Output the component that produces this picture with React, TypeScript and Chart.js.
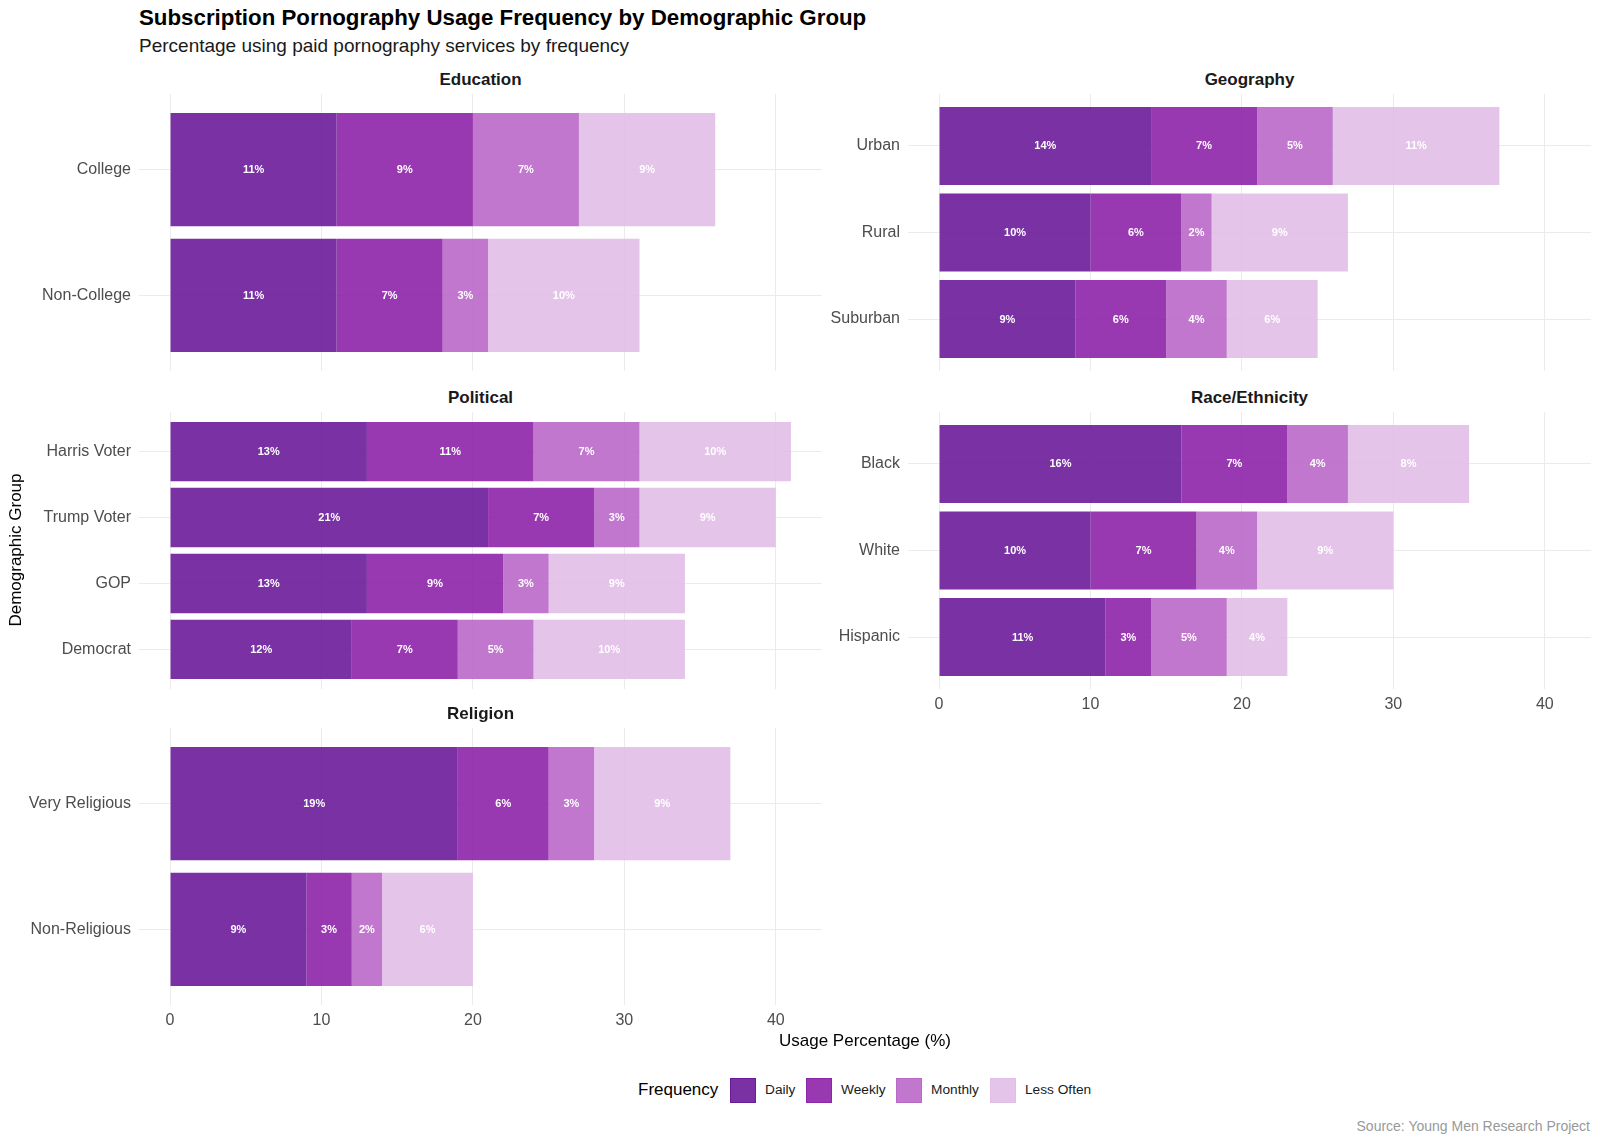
import React, { useEffect, useRef } from 'react'
import { Chart, registerables } from 'chart.js'

Chart.register(...registerables)

const FONT = '"Liberation Sans", Arial, Helvetica, sans-serif'
Chart.defaults.font.family = FONT

// ---- data ----
const frequencies = ['Daily', 'Weekly', 'Monthly', 'Less Often']

const educationGroups = ['College', 'Non-College']
const educationDaily = [11, 11]
const educationWeekly = [9, 7]
const educationMonthly = [7, 3]
const educationLessOften = [9, 10]

const geographyGroups = ['Urban', 'Rural', 'Suburban']
const geographyDaily = [14, 10, 9]
const geographyWeekly = [7, 6, 6]
const geographyMonthly = [5, 2, 4]
const geographyLessOften = [11, 9, 6]

const politicalGroups = ['Harris Voter', 'Trump Voter', 'GOP', 'Democrat']
const politicalDaily = [13, 21, 13, 12]
const politicalWeekly = [11, 7, 9, 7]
const politicalMonthly = [7, 3, 3, 5]
const politicalLessOften = [10, 9, 9, 10]

const raceGroups = ['Black', 'White', 'Hispanic']
const raceDaily = [16, 10, 11]
const raceWeekly = [7, 7, 3]
const raceMonthly = [4, 4, 5]
const raceLessOften = [8, 9, 4]

const religionGroups = ['Very Religious', 'Non-Religious']
const religionDaily = [19, 9]
const religionWeekly = [6, 3]
const religionMonthly = [3, 2]
const religionLessOften = [9, 6]

const xTicks = [0, 10, 20, 30, 40]

// ---- styling ----
const strokes = ['#6A1B9A', '#8E24AA', '#BA68C8', '#E1BEE7']
const fills = [
  'rgba(106,27,154,0.9)',
  'rgba(142,36,170,0.9)',
  'rgba(186,104,200,0.9)',
  'rgba(225,190,231,0.9)',
]

const panels = [
  { name: 'Education', groups: educationGroups, series: [educationDaily, educationWeekly, educationMonthly, educationLessOften], col: 0, row: 0, showX: false },
  { name: 'Geography', groups: geographyGroups, series: [geographyDaily, geographyWeekly, geographyMonthly, geographyLessOften], col: 1, row: 0, showX: false },
  { name: 'Political', groups: politicalGroups, series: [politicalDaily, politicalWeekly, politicalMonthly, politicalLessOften], col: 0, row: 1, showX: false },
  { name: 'Race/Ethnicity', groups: raceGroups, series: [raceDaily, raceWeekly, raceMonthly, raceLessOften], col: 1, row: 1, showX: true },
  { name: 'Religion', groups: religionGroups, series: [religionDaily, religionWeekly, religionMonthly, religionLessOften], col: 0, row: 2, showX: true },
]

// shared x range, ggplot style 5% expansion
const maxTotal = Math.max(
  ...panels.flatMap(p => p.groups.map((_, i) => p.series.reduce((s, arr) => s + arr[i], 0)))
)
const xMin = -maxTotal * 0.05
const xMax = maxTotal * 1.05

const PANEL_LEFT = [139, 908]
const PANEL_W = 683
const PANEL_TOP = [94, 412, 728]
const PANEL_H = 277
const Y_W = 120
const X_H = 30

const segmentLabels = {
  id: 'segmentLabels',
  afterDatasetsDraw(chart: any) {
    const { ctx } = chart
    ctx.save()
    ctx.font = `bold 11px ${FONT}`
    ctx.fillStyle = '#ffffff'
    ctx.textAlign = 'center'
    ctx.textBaseline = 'middle'
    chart.data.datasets.forEach((ds: any, di: number) => {
      const meta = chart.getDatasetMeta(di)
      meta.data.forEach((el: any, i: number) => {
        const v = ds.data[i].x
        if (!v) return
        const p = el.getCenterPoint()
        ctx.fillText(`${v}%`, p.x, p.y + 0.5)
      })
    })
    ctx.restore()
  },
}

type PanelProps = {
  groups: string[]
  series: number[][]
  showX: boolean
  left: number
  top: number
}

const Panel = ({ groups, series, showX, left, top }: PanelProps) => {
  const canvasRef = useRef<HTMLCanvasElement>(null)

  useEffect(() => {
    if (!canvasRef.current) return
    const n = groups.length

    const chart = new Chart(canvasRef.current, {
      type: 'bar',
      data: {
        datasets: frequencies.map((f, k) => ({
          label: f,
          data: groups.map((_, i) => ({ x: series[k][i], y: i + 1 })),
          backgroundColor: fills[k],
          borderWidth: 0,
          categoryPercentage: 1,
          barPercentage: 0.9,
        })),
      },
      options: {
        indexAxis: 'y',
        animation: false,
        responsive: false,
        maintainAspectRatio: false,
        layout: { padding: 0 },
        plugins: {
          legend: { display: false },
          tooltip: { enabled: false },
        },
        scales: {
          x: {
            type: 'linear',
            stacked: true,
            min: xMin,
            max: xMax,
            afterBuildTicks: (s: any) => {
              s.ticks = xTicks.map(v => ({ value: v }))
            },
            afterFit: (s: any) => {
              s.height = showX ? X_H : 0
              s.paddingLeft = 0
              s.paddingRight = 0
            },
            grid: { color: '#ebebeb', lineWidth: 1, drawTicks: false },
            border: { display: false },
            ticks: {
              display: showX,
              autoSkip: false,
              maxRotation: 0,
              color: '#4d4d4d',
              font: { size: 16 },
              padding: 6,
            },
          },
          y: {
            type: 'linear',
            stacked: true,
            reverse: true,
            offset: false,
            min: 0.4,
            max: n + 0.6,
            afterBuildTicks: (s: any) => {
              s.ticks = groups.map((_, i) => ({ value: i + 1 }))
            },
            afterFit: (s: any) => {
              s.width = Y_W
              s.paddingTop = 0
              s.paddingBottom = 0
            },
            grid: { color: '#ebebeb', lineWidth: 1, drawTicks: false, offset: false },
            border: { display: false },
            ticks: {
              autoSkip: false,
              color: '#4d4d4d',
              font: { size: 16 },
              padding: 8,
              callback: (v: any) => groups[Math.round(Number(v)) - 1] ?? '',
            },
          },
        },
      },
      plugins: [segmentLabels],
    } as any)

    return () => {
      chart.destroy()
    }
  }, [groups, series, showX])

  const w = Y_W + PANEL_W
  const h = PANEL_H + (showX ? X_H : 0)
  return (
    <canvas
      ref={canvasRef}
      width={w}
      height={h}
      style={{ position: 'absolute', left: left - Y_W, top, width: w, height: h }}
    />
  )
}

const text = (s: React.CSSProperties): React.CSSProperties => ({
  position: 'absolute',
  whiteSpace: 'nowrap',
  fontFamily: FONT,
  color: '#000000',
  ...s,
})

const App = () => {
  return (
    <div style={{ position: 'absolute', left: 0, top: 0, width: 1600, height: 1143, background: '#ffffff', overflow: 'hidden' }}>
      <div style={text({ left: 139, top: 5, fontSize: 22.3, fontWeight: 'bold', lineHeight: '26px' })}>
        Subscription Pornography Usage Frequency by Demographic Group
      </div>
      <div style={text({ left: 139, top: 34, fontSize: 19, lineHeight: '24px', color: '#1a1a1a' })}>
        Percentage using paid pornography services by frequency
      </div>

      {panels.map(p => (
        <React.Fragment key={p.name}>
          <div
            style={text({
              left: PANEL_LEFT[p.col],
              width: PANEL_W,
              textAlign: 'center',
              top: PANEL_TOP[p.row] - 25,
              fontSize: 17,
              fontWeight: 'bold',
              lineHeight: '22px',
              color: '#1a1a1a',
            })}
          >
            {p.name}
          </div>
          <Panel
            groups={p.groups}
            series={p.series}
            showX={p.showX}
            left={PANEL_LEFT[p.col]}
            top={PANEL_TOP[p.row]}
          />
        </React.Fragment>
      ))}

      <div style={text({ left: 765, width: 200, textAlign: 'center', top: 1030, fontSize: 17, lineHeight: '22px' })}>
        Usage Percentage (%)
      </div>
      <div
        style={text({
          left: 16 - 100,
          width: 200,
          textAlign: 'center',
          top: 550 - 11,
          fontSize: 17,
          lineHeight: '22px',
          transform: 'rotate(-90deg)',
        })}
      >
        Demographic Group
      </div>

      <div style={text({ left: 638, top: 1079, fontSize: 17, lineHeight: '22px' })}>Frequency</div>
      {frequencies.map((f, k) => {
        const keyX = [730, 806, 896, 990][k]
        return (
          <React.Fragment key={f}>
            <div
              style={{
                position: 'absolute',
                left: keyX,
                top: 1078,
                width: 24,
                height: 23,
                background: fills[k],
                border: `1px solid ${strokes[k]}`,
              }}
            />
            <div style={text({ left: keyX + 35, top: 1081, fontSize: 13.7, lineHeight: '18px', color: '#1a1a1a' })}>{f}</div>
          </React.Fragment>
        )
      })}

      <div style={text({ right: 10, top: 1117, fontSize: 14, lineHeight: '18px', color: '#999999' })}>
        Source: Young Men Research Project
      </div>
    </div>
  )
}

export default App
